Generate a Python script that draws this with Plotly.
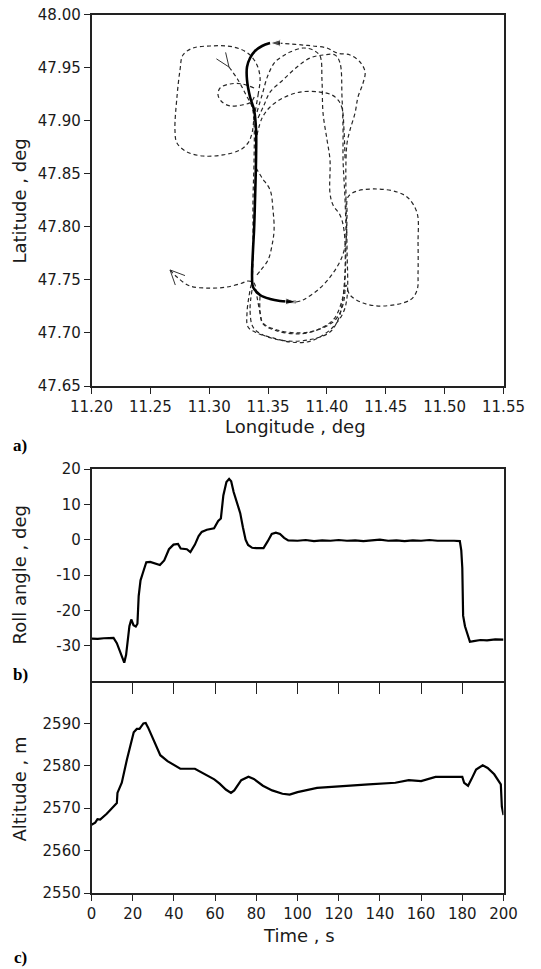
import math
import plotly.graph_objects as go

# ---------------- Panel a) trajectory (lon, lat in deg) ----------------
track1_lon = [11.3168, 11.3245, 11.3313, 11.3364, 11.3381, 11.3381, 11.3372, 11.3372, 11.3364, 11.3347,
              11.3321, 11.3330, 11.3406, 11.3542, 11.3687, 11.3831, 11.3941, 11.4052, 11.4137, 11.4171,
              11.4171, 11.4162, 11.4162, 11.4171, 11.4196, 11.4239, 11.4264, 11.4307, 11.4324, 11.4281,
              11.4196, 11.4086, 11.4001, 11.3882, 11.3797, 11.3687, 11.3585]
track1_lat = [47.9507, 47.9385, 47.9243, 47.9130, 47.8960, 47.8631, 47.8253, 47.7782, 47.7499, 47.7405,
              47.7188, 47.7056, 47.7000, 47.6953, 47.6915, 47.6915, 47.6962, 47.7056, 47.7188, 47.7339,
              47.7782, 47.8253, 47.8631, 47.8791, 47.8913, 47.9074, 47.9224, 47.9356, 47.9460, 47.9554,
              47.9620, 47.9639, 47.9686, 47.9705, 47.9714, 47.9724, 47.9733]

bold_lon = [11.3517, 11.3449, 11.3389, 11.3347, 11.3321, 11.3321, 11.3347, 11.3381, 11.3398, 11.3398,
            11.3389, 11.3381, 11.3372, 11.3364, 11.3372, 11.3432, 11.3517, 11.3602, 11.3738]
bold_lat = [47.9733, 47.9705, 47.9658, 47.9592, 47.9507, 47.9385, 47.9224, 47.9102, 47.8913, 47.8659,
            47.8253, 47.7970, 47.7782, 47.7527, 47.7433, 47.7358, 47.7320, 47.7302, 47.7292]

track2_lon = [11.3738, 11.3797, 11.3941, 11.4052, 11.4128, 11.4162, 11.4171, 11.4179, 11.4256, 11.4426,
              11.4596, 11.4690, 11.4766, 11.4774, 11.4774, 11.4766, 11.4707, 11.4477, 11.4307, 11.4196,
              11.4162, 11.4145, 11.4111, 11.4052, 11.3916, 11.3771, 11.3576, 11.3457, 11.3432, 11.3406,
              11.3381, 11.3330, 11.3279, 11.3151, 11.3007, 11.2837, 11.2726, 11.2667]
track2_lat = [47.7292, 47.7311, 47.7423, 47.7565, 47.7716, 47.7876, 47.8112, 47.8282, 47.8338, 47.8357,
              47.8329, 47.8272, 47.8131, 47.7848, 47.7565, 47.7405, 47.7311, 47.7254, 47.7282, 47.7358,
              47.7452, 47.7311, 47.7188, 47.7104, 47.7028, 47.7000, 47.7028, 47.7094, 47.7188, 47.7339,
              47.7470, 47.7490, 47.7470, 47.7433, 47.7423, 47.7442, 47.7527, 47.7594]

loop_left_lon = [11.3381, 11.3415, 11.3432, 11.3406, 11.3347, 11.3262, 11.3151, 11.3007, 11.2862, 11.2777,
                 11.2752, 11.2726, 11.2709, 11.2726, 11.2811, 11.2947, 11.3117, 11.3262, 11.3330, 11.3364, 11.3381]
loop_left_lat = [47.9026, 47.9243, 47.9403, 47.9526, 47.9620, 47.9677, 47.9705, 47.9705, 47.9686, 47.9620,
                 47.9479, 47.9224, 47.8913, 47.8791, 47.8706, 47.8668, 47.8678, 47.8725, 47.8791, 47.8885, 47.9026]

loop_small_lon = [11.3381, 11.3279, 11.3177, 11.3092, 11.3075, 11.3109, 11.3177, 11.3279, 11.3355, 11.3389]
loop_small_lat = [47.9309, 47.9347, 47.9347, 47.9309, 47.9243, 47.9177, 47.9140, 47.9149, 47.9177, 47.9243]

loop_a_lon = [11.3364, 11.3347, 11.3372, 11.3457, 11.3661, 11.3882, 11.4026, 11.4094, 11.4128, 11.4154,
              11.4145, 11.4111, 11.4052, 11.4026, 11.4026, 11.4001, 11.3967, 11.3958, 11.3941, 11.3882,
              11.3797, 11.3687, 11.3627, 11.3559, 11.3500, 11.3449, 11.3406]
loop_a_lat = [47.7405, 47.7217, 47.7056, 47.6981, 47.6924, 47.6943, 47.7009, 47.7122, 47.7264, 47.7594,
              47.7970, 47.8112, 47.8206, 47.8319, 47.8631, 47.8819, 47.9074, 47.9385, 47.9611, 47.9667,
              47.9686, 47.9648, 47.9611, 47.9554, 47.9432, 47.9243, 47.9083]

loop_b_lon = [11.3415, 11.3466, 11.3517, 11.3627, 11.3746, 11.3857, 11.3967, 11.4069, 11.4111, 11.4128,
              11.4137, 11.4137, 11.4154, 11.4162, 11.4145, 11.4111, 11.4052, 11.3916, 11.3771, 11.3576,
              11.3457, 11.3432, 11.3432]
loop_b_lat = [47.9026, 47.9149, 47.9271, 47.9385, 47.9507, 47.9592, 47.9620, 47.9620, 47.9545, 47.9224,
              47.8913, 47.8631, 47.8253, 47.7876, 47.7405, 47.7245, 47.7122, 47.7028, 47.6991, 47.7019,
              47.7085, 47.7198, 47.7358]

loop_c_lon = [11.3406, 11.3449, 11.3517, 11.3627, 11.3771, 11.3941, 11.4043, 11.4094, 11.4128, 11.4145, 11.4154]
loop_c_lat = [47.8866, 47.9026, 47.9130, 47.9215, 47.9271, 47.9271, 47.9243, 47.9196, 47.9121, 47.8913, 47.8631]

bulge_lon = [11.3398, 11.3449, 11.3517, 11.3542, 11.3551, 11.3534, 11.3500, 11.3440, 11.3398]
bulge_lat = [47.8555, 47.8461, 47.8348, 47.8159, 47.7970, 47.7829, 47.7688, 47.7594, 47.7537]

lon_ticks = [11.20, 11.25, 11.30, 11.35, 11.40, 11.45, 11.50, 11.55]
lat_ticks = [47.65, 47.70, 47.75, 47.80, 47.85, 47.90, 47.95, 48.00]

# ---------------- Panel b) roll angle ----------------
roll_t = [0, 3, 6, 10.7, 12.3, 14.7, 15.9, 16.8, 18.4, 19.3, 20.4, 21.5, 22.3, 22.9, 23.8, 25.0, 26.6,
          28.5, 30.0, 33.2, 35.3, 37.6, 39.8, 42.0, 43.3, 46.3, 48.0, 50.2, 52.0, 53.5, 56.0, 59.5, 61.5,
          62.8, 64.0, 65.5, 66.8, 67.8, 69.0, 70.5, 72.2, 73.5, 74.8, 76.0, 78.0, 80.0, 83.5, 85.5, 87.5,
          89.5, 91.5, 93.5, 95.5, 100, 104, 108, 112, 116, 120, 124, 128, 132, 136, 140, 144, 148, 152,
          156, 160, 164, 168, 172, 176, 178.8, 179.5, 180.0, 180.4, 181.3, 182.5, 183.7, 185.5, 188.8,
          192, 196, 200]
roll_v = [-28.0, -28.1, -27.9, -27.8, -29.3, -33.1, -34.8, -32.6, -24.5, -22.6, -24.2, -24.6, -23.8,
          -16.0, -11.5, -9.3, -6.4, -6.3, -6.6, -7.2, -5.9, -2.7, -1.4, -1.2, -2.5, -2.7, -3.5, -1.4,
          1.0, 2.2, 2.8, 3.2, 5.3, 6.0, 12.5, 16.3, 17.2, 16.5, 13.5, 10.5, 7.5, 3.5, 0.0, -1.5, -2.3,
          -2.4, -2.4, -0.5, 1.6, 2.0, 1.6, 0.5, -0.2, -0.3, -0.1, -0.4, -0.2, -0.3, -0.1, -0.3, -0.2,
          -0.4, -0.2, 0.0, -0.3, -0.2, -0.4, -0.2, -0.3, -0.1, -0.3, -0.2, -0.3, -0.4, -3.0, -8.0,
          -21.5, -24.5, -27.0, -28.9, -28.7, -28.4, -28.5, -28.2, -28.3]
roll_ticks = [-30, -20, -10, 0, 10, 20]

# ---------------- Panel c) altitude ----------------
alt_t = [0, 1.8, 2.9, 4.2, 7.4, 10.7, 12.3, 12.6, 14.7, 17.2, 20.5, 22.0, 23.3, 25.2, 26.3, 27.5, 29.8,
         32.2, 33.4, 36.9, 40, 43.1, 50.2, 52.5, 55.6, 59.6, 62.2, 65.2, 67.7, 69.3, 72.7, 76.2, 78.8,
         83.2, 87.7, 92.7, 96.2, 100, 109.5, 120, 134.5, 147.5, 154, 160, 167, 175, 180, 180.9, 182.8,
         184.4, 186.7, 189.9, 192.3, 195.5, 198.7, 199.2, 200]
alt_v = [2566.1, 2566.6, 2567.4, 2567.3, 2568.7, 2570.4, 2571.2, 2573.6, 2576.0, 2581.5, 2587.9, 2588.7,
         2588.7, 2590.0, 2590.1, 2589.0, 2586.3, 2583.9, 2582.5, 2581.1, 2580.1, 2579.3, 2579.3, 2578.7,
         2577.8, 2576.8, 2575.8, 2574.4, 2573.6, 2574.2, 2576.6, 2577.4, 2576.9, 2575.3, 2574.2, 2573.4,
         2573.2, 2573.8, 2574.8, 2575.2, 2575.6, 2576.0, 2576.6, 2576.4, 2577.4, 2577.4, 2577.4, 2576.0,
         2575.3, 2576.8, 2579.1, 2580.1, 2579.5, 2578.0, 2575.6, 2570.4, 2568.4]
alt_ticks = [2550, 2560, 2570, 2580, 2590]
time_ticks = [0, 20, 40, 60, 80, 100, 120, 140, 160, 180, 200]

# ---------------- figure geometry (window pixels; page body has an 8px margin) ----------------
WIN_W, WIN_H = 541, 969
OFF = 8
W, H = WIN_W - OFF, WIN_H - OFF
FONT = "DejaVu Sans"
INK = "#1a1a1a"
PLOT_L, PLOT_R = 91.5, 503.5
TOP_A, BOT_A = 14.7, 386
TOP_B, BOT_B = 469, 681
TOP_C, BOT_C = 681, 893
LON_RANGE = [11.20, 11.55]
LAT_RANGE = [47.65, 48.00]

def fx(px):
    return (px - OFF) / W

def fy(py):
    return 1 - (py - OFF) / H

# pixel scale of panel a), used to shape the open chevron arrowheads
kx = (PLOT_R - PLOT_L) / (LON_RANGE[1] - LON_RANGE[0])
ky = (BOT_A - TOP_A) / (LAT_RANGE[1] - LAT_RANGE[0])

def chevron(tip_lon, tip_lat, d_lon, d_lat, length=15, half_deg=22):
    vx, vy = d_lon * kx, -d_lat * ky
    n = math.hypot(vx, vy)
    bx, by = -vx / n, -vy / n
    xs, ys = [], []
    for s in (1, -1):
        a = math.radians(half_deg) * s
        wx = bx * math.cos(a) - by * math.sin(a)
        wy = bx * math.sin(a) + by * math.cos(a)
        xs.append(tip_lon + length * wx / kx)
        ys.append(tip_lat - length * wy / ky)
    return [xs[0], tip_lon, xs[1]], [ys[0], tip_lat, ys[1]]

fig = go.Figure()

dash_style = dict(color="#262626", width=1.2, dash="4px,3px")
for lo, la in [(track1_lon, track1_lat), (track2_lon, track2_lat), (loop_left_lon, loop_left_lat),
               (loop_small_lon, loop_small_lat), (loop_a_lon, loop_a_lat), (loop_b_lon, loop_b_lat),
               (loop_c_lon, loop_c_lat), (bulge_lon, bulge_lat)]:
    fig.add_trace(go.Scatter(x=lo, y=la, mode="lines", line=dash_style, line_shape="spline",
                             xaxis="x", yaxis="y", showlegend=False, hoverinfo="skip"))

fig.add_trace(go.Scatter(x=bold_lon, y=bold_lat, mode="lines", line=dict(color="black", width=2.6),
                         line_shape="spline", xaxis="x", yaxis="y", showlegend=False))

# filled arrowheads at both ends of the bold segment
fig.add_trace(go.Scatter(x=[track1_lon[-1], bold_lon[0]], y=[track1_lat[-1], bold_lat[0]], mode="markers",
                         marker=dict(symbol="arrow", size=[0, 11], angleref="previous", color="black"),
                         xaxis="x", yaxis="y", showlegend=False))
fig.add_trace(go.Scatter(x=bold_lon[-2:], y=bold_lat[-2:], mode="markers",
                         marker=dict(symbol="arrow", size=[0, 11], angleref="previous", color="black"),
                         xaxis="x", yaxis="y", showlegend=False))

# open chevrons: start of the flight (track1[0]) and end of the flight (track2[-1])
cs = chevron(track1_lon[0], track1_lat[0], track1_lon[1] - track1_lon[0], track1_lat[1] - track1_lat[0])
ce = chevron(track2_lon[-1], track2_lat[-1], track2_lon[-1] - track2_lon[-2], track2_lat[-1] - track2_lat[-2],
             length=16, half_deg=25)
for cx, cy in (cs, ce):
    fig.add_trace(go.Scatter(x=cx, y=cy, mode="lines", line=dict(color="#333", width=1),
                             xaxis="x", yaxis="y", showlegend=False, hoverinfo="skip"))

fig.add_trace(go.Scatter(x=roll_t, y=roll_v, mode="lines", line=dict(color="black", width=2.2),
                         xaxis="x2", yaxis="y2", showlegend=False))
fig.add_trace(go.Scatter(x=alt_t, y=alt_v, mode="lines", line=dict(color="black", width=2.2),
                         xaxis="x3", yaxis="y3", showlegend=False))

x0, x1 = fx(PLOT_L), fx(PLOT_R)
def ydom(top_px, bot_px):
    return [fy(bot_px), fy(top_px)]

tickfont = dict(family=FONT, size=15, color=INK)
def axis(**kw):
    d = dict(showgrid=False, zeroline=False, showline=True, mirror=True, linecolor="#222",
             linewidth=1.5, ticks="outside", tickcolor="#222", tickwidth=1, tickfont=tickfont,
             automargin=False, ticklen=6, ticklabeloverflow="allow")
    d.update(kw)
    return d

fig.update_layout(
    width=W, height=H, autosize=False,
    margin=dict(l=0, r=0, t=0, b=0, pad=0, autoexpand=False),
    paper_bgcolor="white", plot_bgcolor="rgba(0,0,0,0)", showlegend=False,
    xaxis=axis(domain=[x0, x1], range=LON_RANGE, tickvals=lon_ticks,
               ticktext=[f"{v:.2f}" for v in lon_ticks], anchor="y"),
    yaxis=axis(domain=ydom(TOP_A, BOT_A), range=LAT_RANGE, tickvals=lat_ticks,
               ticktext=[f"{v:.2f}" for v in lat_ticks], anchor="x"),
    xaxis2=axis(domain=[x0, x1], range=[0, 200], tickvals=time_ticks[1:-1], showticklabels=False,
                ticklen=11, anchor="y2"),
    yaxis2=axis(domain=ydom(TOP_B, BOT_B), range=[-40, 20], tickvals=roll_ticks,
                ticktext=[str(v) for v in roll_ticks], anchor="x2"),
    xaxis3=axis(domain=[x0, x1], range=[0, 200], tickvals=time_ticks, mirror=False,
                ticktext=[str(v) for v in time_ticks], anchor="y3"),
    yaxis3=axis(domain=ydom(TOP_C, BOT_C), range=[2550, 2600], tickvals=alt_ticks,
                ticktext=[str(v) for v in alt_ticks], anchor="x3"),
    # tick marks hanging from the shared boundary into panel c)
    xaxis4=dict(domain=[x0, x1], range=[0, 200], overlaying="x3", anchor="y3", side="top",
                tickvals=time_ticks[1:-1], ticks="inside", ticklen=11, tickwidth=1.2, tickcolor="#222",
                showticklabels=False, showline=False, showgrid=False, zeroline=False),
)
# invisible carrier so the overlaying axis is laid out
fig.add_trace(go.Scatter(x=alt_t, y=alt_v, mode="lines", line=dict(width=0), opacity=0,
                         xaxis="x4", yaxis="y3", showlegend=False, hoverinfo="skip"))

title_font = dict(family=FONT, size=18, color=INK)
label_font = dict(family="Liberation Serif", size=17, color="black")
def ann(text, xp, yp, font, angle=0):
    fig.add_annotation(text=text, x=fx(xp), y=fy(yp), xref="paper", yref="paper",
                       showarrow=False, font=font, textangle=angle, xanchor="center", yanchor="middle")

ann("Longitude , deg", 295, 426, title_font)
ann("Time , s", 299, 935, title_font)
ann("Latitude , deg", 18.5, 201, title_font, -90)
ann("Roll angle , deg", 18.5, 575, title_font, -90)
ann("Altitude , m", 18.5, 789, title_font, -90)
ann("<b>a)</b>", 20, 445, label_font)
ann("<b>b)</b>", 20, 674, label_font)
ann("<b>c)</b>", 20, 957, label_font)

fig.write_html("out.html")
